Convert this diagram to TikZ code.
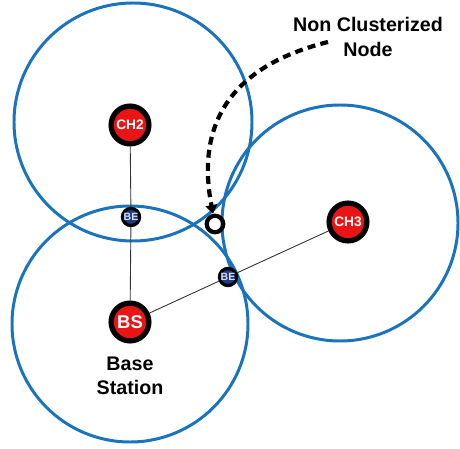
\documentclass[tikz,border=0pt]{standalone}
\usepackage{fontspec}
\setmainfont{Liberation Sans}
\usetikzlibrary{positioning,arrows.meta}
\definecolor{rangeblue}{RGB}{25,115,190}
\definecolor{headred}{RGB}{235,20,20}
\definecolor{bridgeblue}{RGB}{30,60,125}

\begin{document}
\begin{tikzpicture}[x=0.02cm, y=-0.02cm,
        coverage/.style={draw=rangeblue, line width=1.7pt},
        head/.style={circle, draw=black, line width=3pt, fill=headred,
                     minimum size=21.5pt, inner sep=0pt, text=white,
                     font=\bfseries\fontsize{#1}{#1}\selectfont},
        bridge/.style={circle, draw=black, line width=1.8pt, fill=bridgeblue,
                       minimum size=9.8pt, inner sep=0pt, text=blue!15,
                       font=\bfseries\fontsize{6}{6}\selectfont},
        caption/.style={align=center, font=\bfseries\fontsize{11.2}{13.7}\selectfont},
        link/.style={draw=black!80, line width=0.5pt},
        pointer/.style={line width=2.4pt, dash pattern=on 4.5pt off 3pt,
                        -{Triangle[length=5pt, width=6.5pt]}},
    ]
    \useasboundingbox (0,0) rectangle (460,449);

    % coverage ranges
    \draw[coverage] (133,122) circle[radius=119];
    \draw[coverage] (130,324) circle[radius=118];
    \draw[coverage] (340,223) circle[radius=118];

    % cluster heads and base station
    \node[head=7.8] (ch2) at (130,125) {CH2};
    \node[head=7.8] (ch3) at (348,222) {CH3};
    \node[head=10.5] (bs) at (130,322) {BS};
    \node[bridge] (be1) at (131,217) {BE};
    \node[bridge] (be2) at (228,277) {BE};
    \node[draw, circle, line width=2.4pt, minimum size=8.5pt] (nc) at (215,224) {};

    \draw[link] (ch2) -- (be1) -- (bs);
    \draw[link] (bs) -- (be2) -- (ch3);

    % labels
    \node[caption, below=4pt of bs] (bslabel) {Base\\Station};
    \node[caption] (nclabel) at (368,37) {Non Clusterized\\Node};

    \coordinate (ncstart) at (328,42);
    \draw[pointer] (ncstart) .. controls (235,65) and (195,120) .. (nc);
\end{tikzpicture}
\end{document}
